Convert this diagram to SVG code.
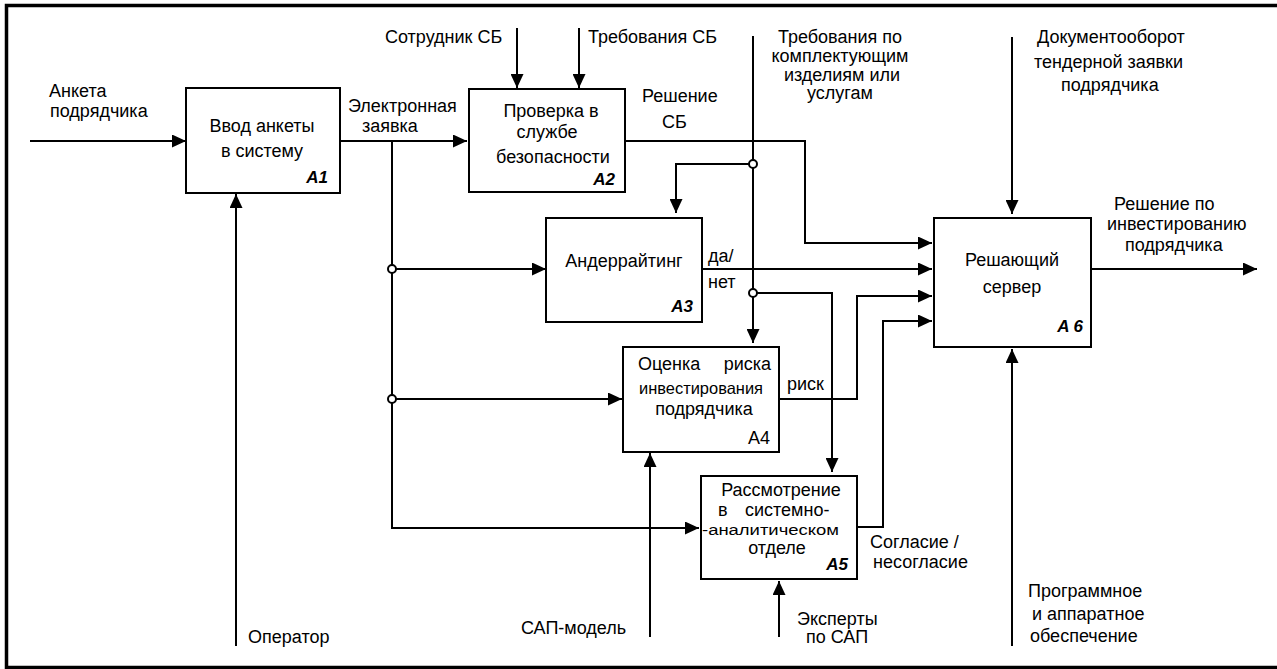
<svg xmlns="http://www.w3.org/2000/svg" width="1277" height="669" viewBox="0 0 1277 669">
<defs>
<style>
text{font-family:"Liberation Sans",Arial,sans-serif;font-size:18px;fill:#000}
.m{text-anchor:middle}
.e{text-anchor:end}
.id{font-weight:bold;font-style:italic;font-size:17px;text-anchor:end}
.box{fill:#fff;stroke:#000;stroke-width:2}
.ln{fill:none;stroke:#000;stroke-width:2}
.j{fill:#fff;stroke:#000;stroke-width:2}
</style>
<marker id="ar" markerUnits="userSpaceOnUse" markerWidth="14" markerHeight="13" refX="14" refY="6.5" orient="auto">
<path d="M0,0 L14,6.5 L0,13 z" fill="#000"/>
</marker>
</defs>
<rect width="1277" height="669" fill="#fff"/>
<rect x="6.5" y="5.5" width="1285" height="662" fill="none" stroke="#000" stroke-width="3.5"/>

<g id="connectors">
<path class="ln" d="M30,141 H186" marker-end="url(#ar)"/>
<path class="ln" d="M340,141 H467" marker-end="url(#ar)"/>
<path class="ln" d="M392,141 V528 H699" marker-end="url(#ar)"/>
<path class="ln" d="M392,269 H546" marker-end="url(#ar)"/>
<path class="ln" d="M392,399 H622" marker-end="url(#ar)"/>
<path class="ln" d="M236,646 V194" marker-end="url(#ar)"/>
<path class="ln" d="M517,28 V88" marker-end="url(#ar)"/>
<path class="ln" d="M579,28 V88" marker-end="url(#ar)"/>
<path class="ln" d="M625,141 H805 V243 H932" marker-end="url(#ar)"/>
<path class="ln" d="M753,36 V343" marker-end="url(#ar)"/>
<path class="ln" d="M753,164 H676 V213" marker-end="url(#ar)"/>
<path class="ln" d="M753,293 H832 V472" marker-end="url(#ar)"/>
<path class="ln" d="M702,269 H932" marker-end="url(#ar)"/>
<path class="ln" d="M779,399 H857 V296 H932" marker-end="url(#ar)"/>
<path class="ln" d="M857,527 H883 V321 H932" marker-end="url(#ar)"/>
<path class="ln" d="M650,637 V453" marker-end="url(#ar)"/>
<path class="ln" d="M779,637 V581" marker-end="url(#ar)"/>
<path class="ln" d="M1012,37 V214" marker-end="url(#ar)"/>
<path class="ln" d="M1012,646 V349" marker-end="url(#ar)"/>
<path class="ln" d="M1091,269 H1257" marker-end="url(#ar)"/>
<circle class="j" cx="392" cy="269" r="4"/>
<circle class="j" cx="392" cy="399" r="4"/>
<circle class="j" cx="753" cy="164" r="4"/>
<circle class="j" cx="753" cy="293" r="4"/>
</g>

<g id="labels">
<text x="49" y="97">Анкета</text>
<text x="50" y="117">подрядчика</text>
<text x="348" y="112">Электронная</text>
<text x="362" y="132">заявка</text>
<text x="385" y="43">Сотрудник СБ</text>
<text x="588" y="43">Требования СБ</text>
<text x="642" y="102">Решение</text>
<text x="662" y="128">СБ</text>
<text class="m" x="840" y="43">Требования по</text>
<text class="m" x="840" y="62">комплектующим</text>
<text class="m" x="842" y="81">изделиям или</text>
<text class="m" x="840" y="99">услугам</text>
<text x="1037" y="43">Документооборот</text>
<text x="1034" y="68">тендерной заявки</text>
<text x="1061" y="91">подрядчика</text>
<text x="1114" y="210">Решение  по</text>
<text x="1107" y="230">инвестированию</text>
<text x="1125" y="251">подрядчика</text>
<text x="708" y="262">да/</text>
<text x="708" y="288">нет</text>
<text x="787" y="390">риск</text>
<text x="870" y="548">Согласие /</text>
<text x="873" y="568">несогласие</text>
<text x="248" y="643">Оператор</text>
<text x="521" y="634">САП-модель</text>
<text x="797" y="625">Эксперты</text>
<text x="806" y="643">по САП</text>
<text x="1028" y="597">Программное</text>
<text x="1032" y="620">и аппаратное</text>
<text x="1030" y="642">обеспечение</text>
</g>

<g id="A1">
<rect class="box" x="186" y="88" width="154" height="105"/>
<text class="m" x="262" y="132">Ввод анкеты</text>
<text class="m" x="262" y="157">в систему</text>
<text class="id" x="328" y="183">A1</text>
</g>

<g id="A2">
<rect class="box" x="469" y="89" width="156" height="103"/>
<text class="m" x="551" y="117">Проверка в</text>
<text class="m" x="547" y="138">службе</text>
<text class="m" x="553" y="163">безопасности</text>
<text class="id" x="615" y="185">A2</text>
</g>

<g id="A3">
<rect class="box" x="546" y="218" width="156" height="104"/>
<text class="m" x="624" y="267">Андеррайтинг</text>
<text class="id" x="693" y="312">A3</text>
</g>

<g id="A4">
<rect class="box" x="623" y="347" width="156" height="105"/>
<text x="638" y="370">Оценка</text>
<text class="e" x="771" y="370">риска</text>
<text x="639" y="394" style="font-size:16.5px" textLength="124" lengthAdjust="spacingAndGlyphs">инвестирования</text>
<text class="m" x="704" y="415">подрядчика</text>
<text class="e" x="770" y="444">A4</text>
</g>

<g id="A5">
<rect class="box" x="701" y="476" width="156" height="103"/>
<text class="m" x="781" y="496">Рассмотрение</text>
<text x="718" y="516">в</text>
<text x="745" y="516">системно-</text>
<text x="702" y="535" style="font-size:15.5px" textLength="137" lengthAdjust="spacingAndGlyphs">-аналитическом</text>
<text class="m" x="777" y="554">отделе</text>
<text class="id" x="848" y="570">A5</text>
</g>

<g id="A6">
<rect class="box" x="934" y="218" width="157" height="129"/>
<text class="m" x="1012" y="266">Решающий</text>
<text class="m" x="1012" y="293">сервер</text>
<text class="id" x="1083" y="332">A 6</text>
</g>
</svg>
